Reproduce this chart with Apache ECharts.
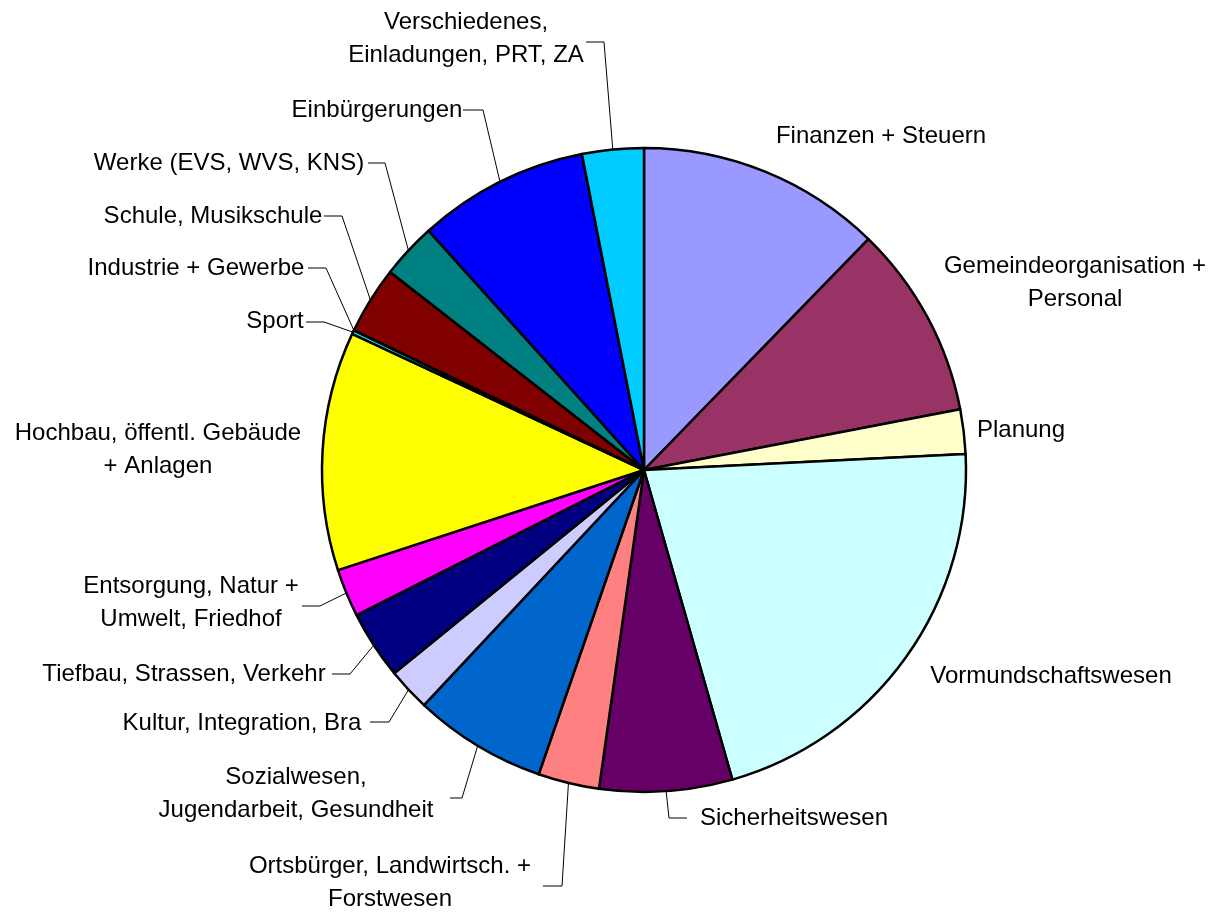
<!DOCTYPE html>
<html><head><meta charset="utf-8">
<script src="https://cdn.jsdelivr.net/npm/echarts@6/dist/echarts.min.js"></script>
<style>html,body{margin:0;padding:0;background:#fff}#c{width:1221px;height:913px}</style>
</head><body><div id="c"></div>
<script>
const categories = [
  'Finanzen + Steuern',
  'Gemeindeorganisation +\nPersonal',
  'Planung',
  'Vormundschaftswesen',
  'Sicherheitswesen',
  'Ortsbürger, Landwirtsch. +\nForstwesen',
  'Sozialwesen,\nJugendarbeit, Gesundheit',
  'Kultur, Integration, Bra',
  'Tiefbau, Strassen, Verkehr',
  'Entsorgung, Natur +\nUmwelt, Friedhof',
  'Hochbau, öffentl. Gebäude\n+ Anlagen',
  'Sport',
  'Industrie + Gewerbe',
  'Schule, Musikschule',
  'Werke (EVS, WVS, KNS)',
  'Einbürgerungen',
  'Verschiedenes,\nEinladungen, PRT, ZA'
];
const values = [12.28, 9.71, 2.23, 21.37, 6.66, 3.07, 6.67, 2.16, 3.43, 2.41, 11.98, 0.19, 0.01, 3.40, 2.79, 8.58, 3.09];
const colors = ['#9999FF','#993366','#FFFFCC','#CCFFFF','#660066','#FF8080','#0066CC','#CCCCFF','#000080','#FF00FF','#FFFF00','#00FFFF','#800080','#800000','#008080','#0000FF','#00CCFF'];

// label placement: [textX, textY, elbowX, attachX, leaderY]
const labelPos = [
  [881, 136],
  [1075, 283],
  [1021, 430],
  [1051, 676],
  [794, 818, 669, 687, 818],
  [390, 883, 562, 543, 886],
  [296, 794, 462, 450, 798],
  [242, 723, 389, 370, 722],
  [184, 674, 350, 332, 674],
  [191, 603, 320, 302, 606],
  [158, 450],
  [275, 321, 324, 306, 322],
  [196, 268, 326, 308, 268],
  [213, 216, 342, 324, 216],
  [229, 163, 385, 368, 163],
  [377, 110, 483, 463, 110],
  [466, 39, 604, 586, 42]
];

const chart = echarts.init(document.getElementById('c'), null, {renderer: 'canvas'});
const data = categories.map((n, i) => ({
  name: n,
  value: values[i],
  itemStyle: {color: colors[i]},
  labelLine: {show: labelPos[i].length > 2}
}));
chart.setOption({
  animation: false,
  backgroundColor: '#fff',
  series: [{
    type: 'pie',
    center: [644, 470],
    radius: 322,
    startAngle: 90,
    clockwise: true,
    avoidLabelOverlap: false,
    minShowLabelAngle: 0,
    stillShowZeroSum: true,
    itemStyle: {borderColor: '#000', borderWidth: 2.5},
    emphasis: {disabled: true},
    label: {
      show: true, position: 'outside', formatter: '{b}', color: '#000',
      fontFamily: 'Liberation Sans, Arial, sans-serif', fontSize: 24, lineHeight: 33,
      width: 420, overflow: 'none', align: 'center'
    },
    labelLine: {show: true, length: 10, length2: 10, smooth: false, lineStyle: {color: '#000', width: 1}},
    labelLayout: function (p) {
      const L = labelPos[p.dataIndex];
      const res = {x: L[0], y: L[1], align: 'center', verticalAlign: 'middle'};
      if (L.length > 2 && p.labelLinePoints) {
        const s = p.labelLinePoints[0];
        res.labelLinePoints = [[s[0], s[1]], [L[2], L[4]], [L[3], L[4]]];
      }
      return res;
    },
    data: data
  }]
});
</script>
</body></html>
